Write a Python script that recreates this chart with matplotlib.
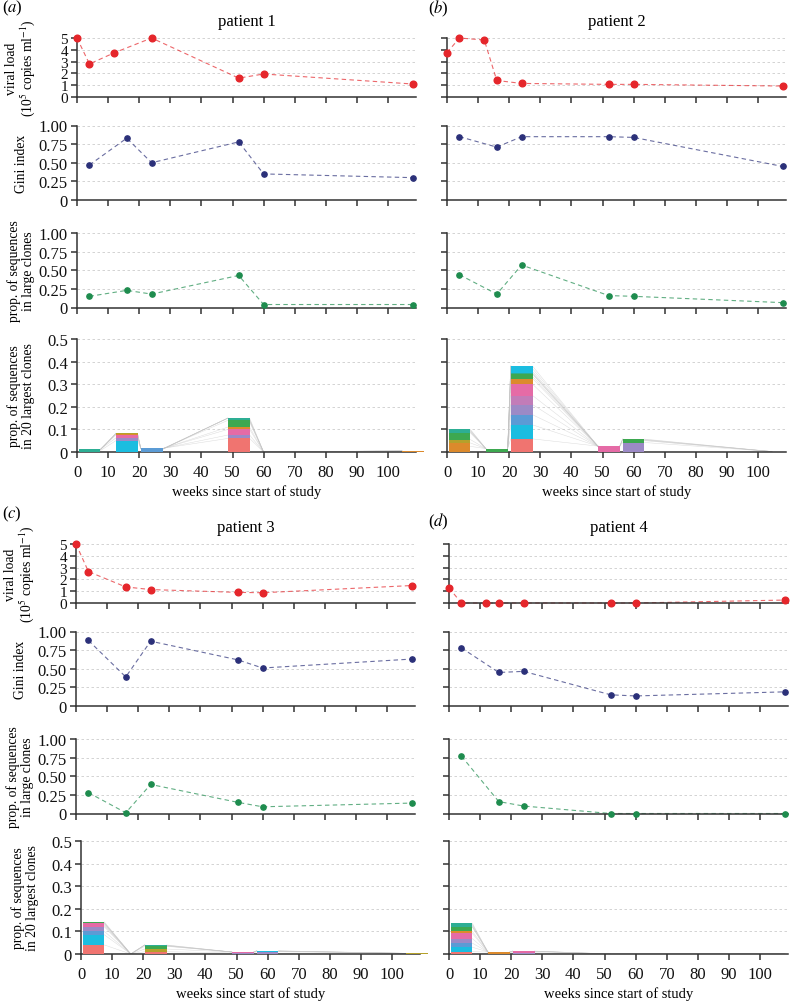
import numpy as np
import matplotlib
matplotlib.use("Agg")
import matplotlib.pyplot as plt

plt.rcParams['font.family'] = ['Liberation Serif', 'DejaVu Serif']
plt.rcParams['mathtext.fontset'] = 'stix'

# ---- data -------------------------------------------------------------
weeks_vl = {
    1: [0, 4, 12, 24, 52, 60, 108],
    2: [0, 4, 12, 16, 24, 52, 60, 108],
    3: [0, 4, 16, 24, 52, 60, 108],
    4: [0, 4, 12, 16, 24, 52, 60, 108],
}
viral_load = {
    1: [5.0, 2.8, 3.75, 5.0, 1.6, 1.95, 1.1],
    2: [3.76, 5.0, 4.83, 1.4, 1.15, 1.07, 1.07, 0.93],
    3: [5.0, 2.66, 1.36, 1.14, 0.9, 0.87, 1.48],
    4: [1.28, 0.0, 0.0, 0.0, 0.0, 0.0, 0.0, 0.25],
}
weeks_seq = {
    1: [4, 16, 24, 52, 60, 108],
    2: [4, 16, 24, 52, 60, 108],
    3: [4, 16, 24, 52, 60, 108],
    4: [4, 16, 24, 52, 60, 108],
}
gini = {
    1: [0.47, 0.83, 0.50, 0.78, 0.35, 0.30],
    2: [0.85, 0.71, 0.85, 0.85, 0.84, 0.45],
    3: [0.88, 0.39, 0.87, 0.62, 0.51, 0.63],
    4: [0.78, 0.45, 0.465, 0.15, 0.135, 0.19],
}
large_clones = {
    1: [0.15, 0.23, 0.18, 0.43, 0.04, 0.04],
    2: [0.44, 0.18, 0.57, 0.16, 0.15, 0.065],
    3: [0.28, 0.01, 0.39, 0.15, 0.09, 0.14],
    4: [0.77, 0.16, 0.10, 0.0, 0.0, 0.0],
}

# clone colours (stack order bottom -> top)
pal = {
    'salmon': '#F07470', 'orange': '#DC8A2C', 'olive': '#B5A12B',
    'green': '#3DA850', 'teal': '#2DAE94', 'cyan': '#1BBDE0',
    'blue': '#5B9BD5', 'purple': '#9C8AC6', 'mauve': '#C27CB8',
    'pink': '#E56BA6',
}

# top-20 clone segments for every sampling week: (heights, colours)
clones = {
    1: [([0.006, 0.006], ['teal', 'teal']),
        ([0.05, 0.012, 0.013, 0.004, 0.003], ['cyan', 'purple', 'pink', 'orange', 'olive']),
        ([0.016], ['blue']),
        ([0.06, 0.015, 0.025, 0.01, 0.03, 0.01], ['salmon', 'purple', 'pink', 'orange', 'green', 'teal']),
        ([], []),
        ([0.005], ['orange'])],
    2: [([0.025, 0.015, 0.015, 0.03, 0.015], ['orange', 'orange', 'olive', 'green', 'teal']),
        ([0.015], ['green']),
        ([0.058, 0.062, 0.045, 0.045, 0.04, 0.05, 0.025, 0.02, 0.005, 0.03],
         ['salmon', 'cyan', 'blue', 'purple', 'mauve', 'pink', 'orange', 'green', 'teal', 'cyan']),
        ([0.026], ['pink']),
        ([0.042, 0.015], ['purple', 'green']),
        ([0.002], ['green'])],
    3: [([0.04, 0.045, 0.015, 0.02, 0.015, 0.004, 0.003],
         ['salmon', 'cyan', 'blue', 'purple', 'pink', 'orange', 'green']),
        ([], []),
        ([0.01, 0.012, 0.012, 0.006], ['salmon', 'olive', 'green', 'teal']),
        ([0.005, 0.004], ['purple', 'pink']),
        ([0.01, 0.004], ['purple', 'cyan']),
        ([0.003], ['olive'])],
    4: [([0.01, 0.02, 0.018, 0.02, 0.023, 0.009, 0.02, 0.016],
         ['salmon', 'cyan', 'blue', 'purple', 'pink', 'orange', 'green', 'teal']),
        ([0.009], ['orange']),
        ([0.006, 0.007], ['purple', 'pink']),
        ([], []), ([], []), ([], [])],
}

xticks = list(range(0, 101, 10))
vl_color, gini_color, lc_color = '#E5262B', '#2B3079', '#1E8C4E'
axis_col = '#333333'
bar_w = 7

W, H = 794, 1003
fig = plt.figure(figsize=(W / 100, H / 100), dpi=100)


def add_ax(x0, top, bottom, width=339):
    return fig.add_axes([x0 / W, 1 - bottom / H, width / W, (bottom - top) / H])


def style(ax, yticks, ylabels, show_ylab, ysize=12):
    ax.set_xlim(0, 109)
    ax.set_ylim(yticks[0], yticks[-1])
    ax.set_xticks(xticks)
    ax.set_yticks(yticks)
    ax.set_yticklabels(ylabels if show_ylab else [])
    for s in ['top', 'right']:
        ax.spines[s].set_visible(False)
    for s in ['left', 'bottom']:
        ax.spines[s].set_color(axis_col)
        ax.spines[s].set_linewidth(1.1)
    ax.tick_params(colors=axis_col, length=4.5, width=1.1,
                   labelcolor='#111111')
    ax.tick_params(axis='y', labelsize=ysize, pad=2)
    ax.tick_params(axis='x', labelsize=12, pad=4)
    ax.yaxis.grid(True, linestyle=(0, (3, 3)), color='#cccccc', lw=0.6)
    ax.set_axisbelow(True)


def series(ax, x, y, c, ms):
    ax.plot(x, y, linestyle=(0, (4, 3)), color=c, lw=0.8, alpha=0.7, clip_on=False)
    ax.plot(x, y, 'o', color=c, ms=ms, clip_on=False, zorder=5)


def ylab(ax, text):
    ax.text(-0.165, 0.5, text, transform=ax.transAxes, rotation=90,
            ha='center', va='center', fontsize=9.8, multialignment='center',
            linespacing=1.05)


layout = {
    # patient: (x of axes, x of bar axes, row offset, bar offset, title, letter, letter y)
    1: (77, 77, 0, 0, 'patient 1', 'a', 8),
    2: (447, 447, 0, 0, 'patient 2', 'b', 9),
    3: (76, 81, 506, 502, 'patient 3', 'c', 514),
    4: (449, 449, 506, 502, 'patient 4', 'd', 522),
}

for p, (x0, xb, dy, db, title, letter, ly) in layout.items():
    left = p in (1, 3)
    ax1 = add_ax(x0, 39 + dy, 98 + dy)
    ax2 = add_ax(x0, 126.5 + dy, 201 + dy)
    ax3 = add_ax(x0, 234 + dy, 308.5 + dy)
    ax4 = add_ax(xb, 340 + db, 453 + db)

    style(ax1, [0, 1, 2, 3, 4, 5], ['0', '1', '2', '3', '4', '5'], left, ysize=11)
    style(ax2, [0, 0.25, 0.5, 0.75, 1.0], ['0', '0.25', '0.50', '0.75', '1.00'], left)
    style(ax3, [0, 0.25, 0.5, 0.75, 1.0], ['0', '0.25', '0.50', '0.75', '1.00'], left)
    style(ax4, [0, 0.1, 0.2, 0.3, 0.4, 0.5], ['0', '0.1', '0.2', '0.3', '0.4', '0.5'], left)
    for a in (ax1, ax2, ax3):
        a.set_xticklabels([])
    ax4.set_xticklabels([str(t) for t in xticks])
    ax4.set_xlabel('weeks since start of study', fontsize=10.5, labelpad=3)

    series(ax1, weeks_vl[p], viral_load[p], vl_color, 4.8)
    series(ax2, weeks_seq[p], gini[p], gini_color, 3.8)
    series(ax3, weeks_seq[p], large_clones[p], lc_color, 3.8)

    # stacked clone bars
    bars = clones[p]
    wk = weeks_seq[p]
    for w, (hs, cs) in zip(wk, bars):
        ax4.bar([w] * len(hs), hs, width=bar_w, bottom=np.cumsum([0] + hs[:-1]),
                color=[pal[c] for c in cs], linewidth=0, clip_on=False, zorder=3)
    # grey links between consecutive samples
    for i in range(len(wk) - 1):
        h0, h1 = bars[i][0], bars[i + 1][0]
        c0 = np.cumsum([0] + h0)
        c1 = np.cumsum([0] + h1)
        xs = wk[i] + bar_w / 2 if sum(h0) > 0 else wk[i]
        xe = wk[i + 1] - bar_w / 2 if sum(h1) > 0 else wk[i + 1]
        n = max(len(c0), len(c1)) + 4
        for k in range(n):
            y0 = c0[min(k, len(c0) - 1)] * (1 - 0.03 * max(0, k - len(c0) + 1))
            y1 = c1[min(k, len(c1) - 1)]
            ax4.plot([xs, xe], [y0, y1], color='#c4c4c4', lw=0.35, alpha=0.6, zorder=2)

    if left:
        ylab(ax1, 'viral load\n(10$^5$ copies ml$^{-1}$)')
        ylab(ax2, 'Gini index')
        ylab(ax3, 'prop. of sequences\nin large clones')
        ylab(ax4, 'prop. of sequences\nin 20 largest clones')

    ax1.set_title(title, fontsize=12, pad=9)
    lx = 2 if left else 428
    fig.text(lx / W, 1 - ly / H, '(' + r'$\it{' + letter + '}$' + ')', fontsize=12,
             ha='left', va='center')

fig.savefig('out.png', dpi=100)
